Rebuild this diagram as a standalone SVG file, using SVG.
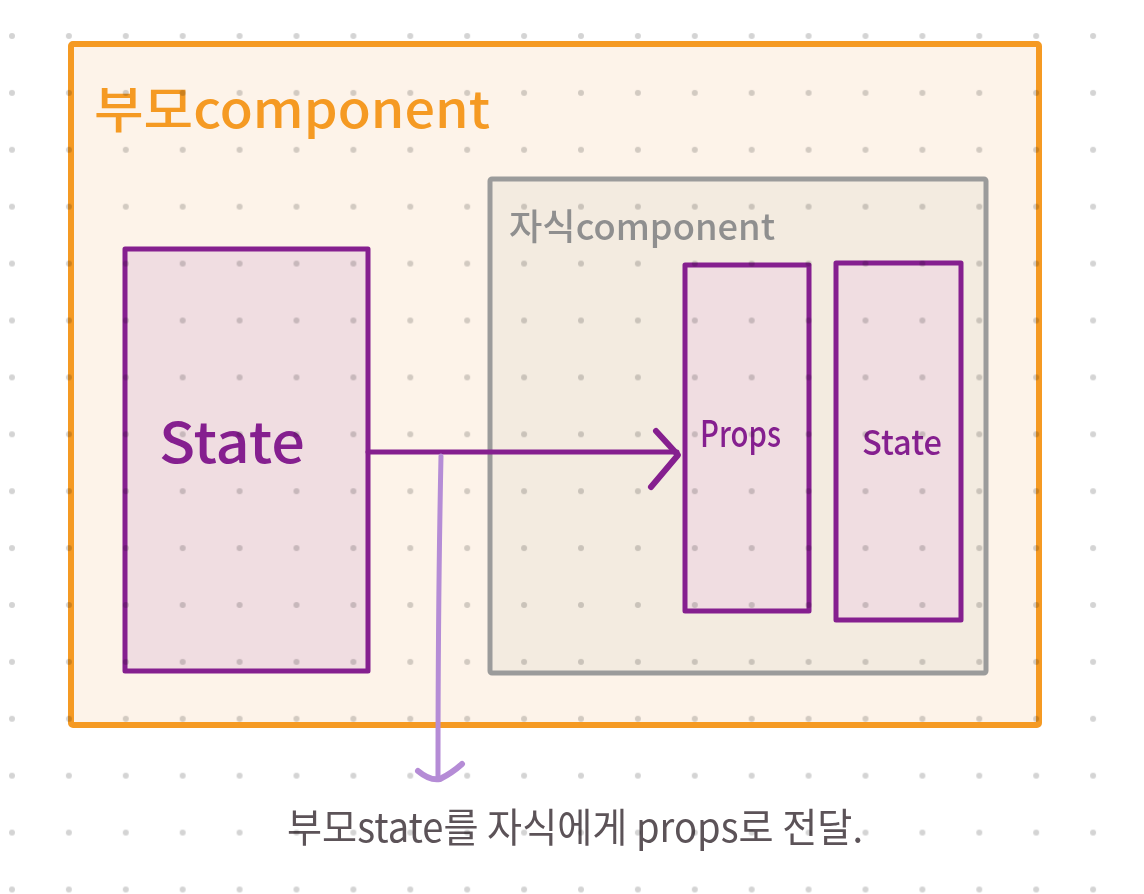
<svg xmlns="http://www.w3.org/2000/svg" width="1144" height="894" viewBox="0 0 1144 894">
<defs>
<pattern id="dots" x="12" y="36" width="56.9" height="56.9" patternUnits="userSpaceOnUse">
<circle cx="0" cy="0" r="3" fill="#d4d4d4"/>
<circle cx="56.9" cy="0" r="3" fill="#d4d4d4"/>
<circle cx="0" cy="56.9" r="3" fill="#d4d4d4"/>
<circle cx="56.9" cy="56.9" r="3" fill="#d4d4d4"/>
</pattern>
<style>
.hand{font-family:"Noto Sans CJK KR","Noto Sans",sans-serif;}
.box{stroke-linejoin:round;}
.purple{stroke:#851F8F;stroke-width:5;fill:#F0DDE1;}
.ptext{fill:#851F8F;font-weight:500;}
</style>
</defs>
<rect x="0" y="0" width="1144" height="894" fill="#ffffff"/>
<g id="parent">
<rect class="box" x="71" y="44" width="968" height="681" fill="#FDF3E9" stroke="#F59A23" stroke-width="6" rx="2"/>
<text class="hand" x="94" y="128" font-size="50" fill="#F59A23" font-weight="500" textLength="396" lengthAdjust="spacingAndGlyphs">부모component</text>
</g>
<g id="child">
<rect class="box" x="490" y="179" width="496" height="494" fill="#F3EBE0" stroke="#9B9B9B" stroke-width="5" rx="2"/>
<text class="hand" x="509" y="240" font-size="36" fill="#8F8F8F" font-weight="500" textLength="266" lengthAdjust="spacingAndGlyphs">자식component</text>
</g>
<g id="parent-state">
<rect class="box purple" x="125" y="249" width="243" height="422"/>
<text class="hand ptext" x="159" y="463" font-size="56" textLength="146" lengthAdjust="spacingAndGlyphs">State</text>
</g>
<g id="props">
<rect class="box purple" x="685" y="265" width="124" height="346"/>
<text class="hand ptext" x="700" y="447" font-size="36" textLength="81" lengthAdjust="spacingAndGlyphs">Props</text>
</g>
<g id="child-state">
<rect class="box purple" x="836" y="263" width="125" height="357"/>
<text class="hand ptext" x="862" y="455" font-size="34" textLength="80" lengthAdjust="spacingAndGlyphs">State</text>
</g>
<g id="connectors" fill="none" stroke-linecap="round" stroke-linejoin="round">
<path d="M368 452 L677 452" stroke="#851F8F" stroke-width="5"/>
<path d="M656 431 L678 455 L651 487" stroke="#851F8F" stroke-width="6"/>
<path d="M441 456 Q438 600 438 778" stroke="#B58CD6" stroke-width="5"/>
<path d="M418 771 Q430 781 440 779 Q452 773 462 764" stroke="#B58CD6" stroke-width="6"/>
</g>
<g id="caption">
<text class="hand" x="287" y="842" font-size="40" fill="#5C5358" textLength="576" lengthAdjust="spacingAndGlyphs">부모state를 자식에게 props로 전달.</text>
</g>
<rect x="0" y="0" width="1144" height="894" fill="url(#dots)" style="mix-blend-mode:multiply" pointer-events="none"/>
</svg>
